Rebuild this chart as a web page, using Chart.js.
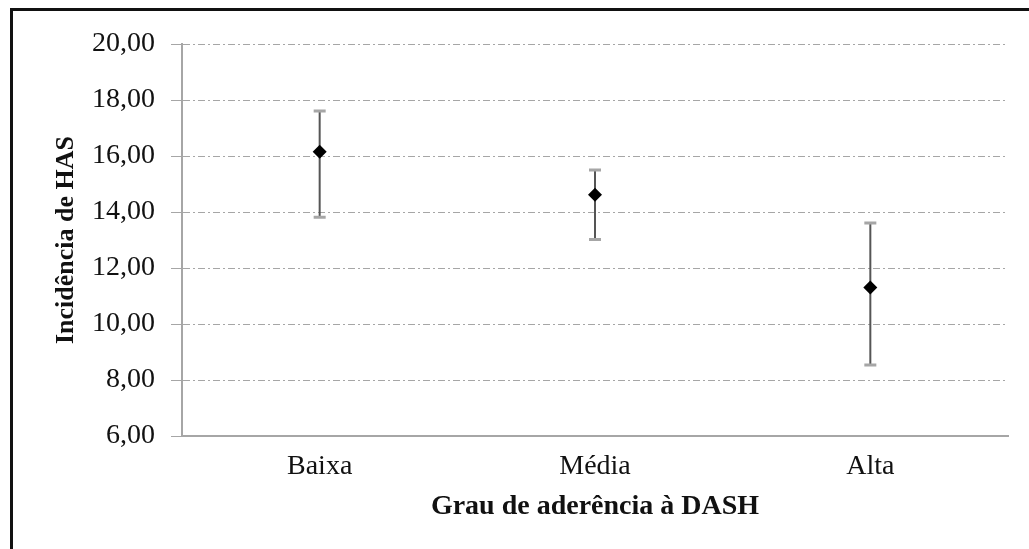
<!DOCTYPE html>
<html>
<head>
<meta charset="utf-8">
<script src="https://cdn.jsdelivr.net/npm/chart.js@4"></script>
<style>
  html, body { margin: 0; padding: 0; background: #fff; overflow: hidden; }
  #frame { position: absolute; left: 10px; top: 8px; width: 1100px; height: 600px;
           border-left: 3px solid #111; border-top: 3px solid #111; }
  #myChart { position: absolute; left: 0; top: 0; }
</style>
</head>
<body>
<div id="frame"></div>
<canvas id="myChart" width="1029" height="549"></canvas>
<script>
const categories = ['Baixa', 'Média', 'Alta'];
const means = [16.15, 14.62, 11.30];
const upper = [17.61, 15.50, 13.61];
const lower = [13.81, 13.02, 8.54];
const yTicks = [6, 8, 10, 12, 14, 16, 18, 20];

const fontFamily = '"Liberation Serif", "Times New Roman", serif';

// error bars drawn from the arrays above, via the chart scales
const errorBars = {
  id: 'errorBars',
  beforeDatasetsDraw(chart) {
    const ctx = chart.ctx;
    const x = chart.scales.x;
    const y = chart.scales.y;
    ctx.save();
    categories.forEach((c, i) => {
      const px = x.getPixelForValue(i);
      const top = y.getPixelForValue(upper[i]);
      const bot = y.getPixelForValue(lower[i]);
      ctx.strokeStyle = '#555';
      ctx.lineWidth = 2;
      ctx.beginPath();
      ctx.moveTo(px, top);
      ctx.lineTo(px, bot);
      ctx.stroke();
      ctx.strokeStyle = '#a6a6a6';
      ctx.lineWidth = 3;
      ctx.beginPath();
      ctx.moveTo(px - 6, top);
      ctx.lineTo(px + 6, top);
      ctx.moveTo(px - 6, bot);
      ctx.lineTo(px + 6, bot);
      ctx.stroke();
    });
    ctx.restore();
  }
};

const ctx = document.getElementById('myChart');

new Chart(ctx, {
  type: 'line',
  data: {
    labels: categories,
    datasets: [{
      label: 'Incidência de HAS',
      data: means,
      showLine: false,
      pointStyle: 'rectRot',
      pointRadius: 7,
      pointBackgroundColor: '#000',
      pointBorderColor: '#000',
      pointBorderWidth: 0
    }]
  },
  options: {
    responsive: false,
    animation: false,
    layout: {
      padding: { left: 40, top: 44, right: 21, bottom: 0 }
    },
    plugins: {
      legend: { display: false },
      tooltip: { enabled: false }
    },
    scales: {
      x: {
        type: 'category',
        offset: true,
        afterFit(scale) { scale.height = 113; },
        grid: { display: false, drawTicks: false },
        border: { display: true, color: '#a6a6a6', width: 2 },
        ticks: {
          color: '#111',
          padding: 14,
          font: { family: fontFamily, size: 28 }
        },
        title: {
          display: true,
          text: 'Grau de aderência à DASH',
          color: '#111',
          padding: { top: 0, bottom: 25 },
          font: { family: fontFamily, size: 28, weight: 'bold' }
        }
      },
      y: {
        min: 6,
        max: 20,
        afterFit(scale) { scale.width = 142; },
        afterBuildTicks(scale) {
          scale.ticks = yTicks.map(v => ({ value: v }));
        },
        grid: {
          color: '#a6a6a6',
          lineWidth: 1,
          tickLength: 11
        },
        border: { display: true, color: '#a6a6a6', width: 2, dash: [7, 3, 2, 3] },
        ticks: {
          color: '#111',
          padding: 16,
          font: { family: fontFamily, size: 28 },
          callback: v => v.toFixed(2).replace('.', ',')
        },
        title: {
          display: true,
          text: 'Incidência de HAS',
          color: '#111',
          padding: { top: 11, bottom: 0 },
          font: { family: fontFamily, size: 26, weight: 'bold' }
        }
      }
    }
  },
  plugins: [errorBars]
});
</script>
</body>
</html>
